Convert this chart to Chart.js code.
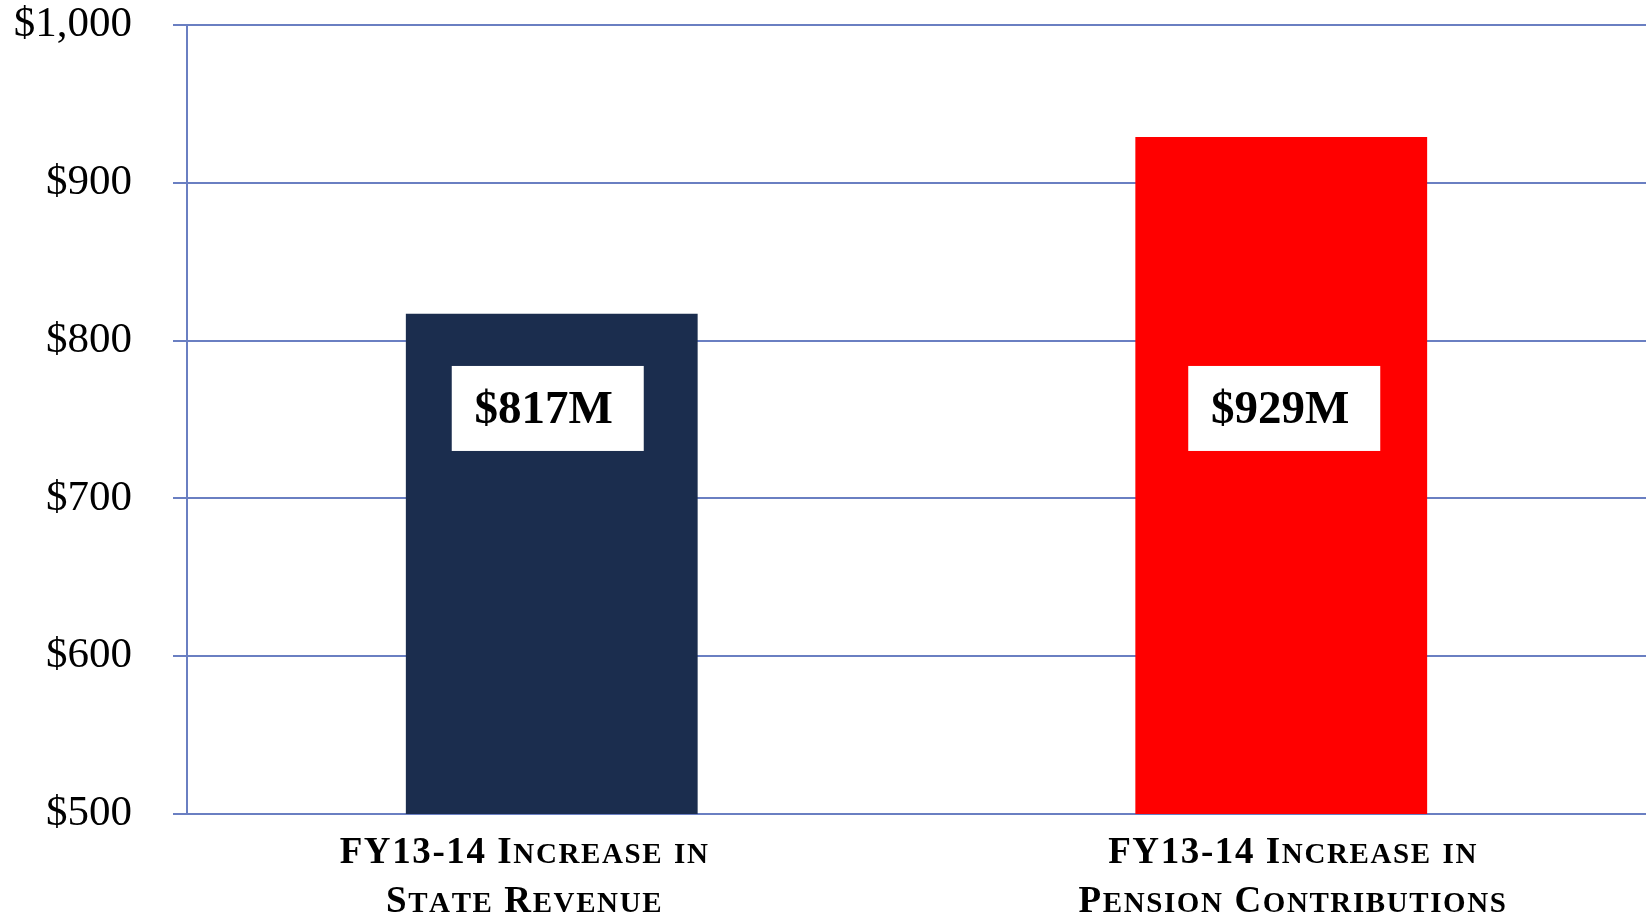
<!DOCTYPE html>
<html>
<head>
<meta charset="utf-8">
<script src="https://cdn.jsdelivr.net/npm/chart.js@4"></script>
<style>
html,body{margin:0;padding:0;background:#fff;}
#wrap{width:1652px;height:916px;position:relative;}
</style>
</head>
<body>
<div id="wrap"><canvas id="c" width="1652" height="916"></canvas></div>
<script>
const categories = [["FY13-14 Increase in", "State Revenue"], ["FY13-14 Increase in", "Pension Contributions"]];
const values = [817, 929];
const valueLabels = ["$817M", "$929M"];
const barColors = ["#1b2d4e", "#ff0000"];
const yTicks = [500, 600, 700, 800, 900, 1000];

const gridColor = "#6a7fc2";

// draw text in small caps: uppercase letters full size, lowercase as smaller capitals
function drawSmallCaps(ctx, text, cx, baseline, big, small, spacing) {
  const parts = [];
  for (const ch of text) {
    const isLower = ch !== ch.toUpperCase();
    parts.push({ t: ch.toUpperCase(), size: isLower ? small : big });
  }
  let total = 0;
  parts.forEach(p => {
    ctx.font = "bold " + p.size + "px 'Liberation Serif'";
    p.w = ctx.measureText(p.t).width;
    total += p.w + spacing;
  });
  total -= spacing;
  let x = cx - total / 2;
  ctx.textAlign = "left";
  ctx.textBaseline = "alphabetic";
  parts.forEach(p => {
    ctx.font = "bold " + p.size + "px 'Liberation Serif'";
    ctx.fillText(p.t, x, baseline);
    x += p.w + spacing;
  });
}

const categoryLabels = {
  id: "categoryLabels",
  afterDraw(chart, args, opts) {
    const ctx = chart.ctx;
    const xs = chart.scales.x;
    const bottom = chart.chartArea.bottom;
    ctx.save();
    ctx.fillStyle = "#000";
    categories.forEach((lines, i) => {
      const cx = xs.getPixelForTick(i) + opts.offsets[i];
      lines.forEach((line, j) => {
        drawSmallCaps(ctx, line, cx, bottom + 49 + j * 49, 37, 29, 1.6);
      });
    });
    ctx.restore();
  }
};

const boxLabels = {
  id: "boxLabels",
  afterDatasetsDraw(chart, args, opts) {
    const ctx = chart.ctx;
    const meta = chart.getDatasetMeta(0);
    const y = chart.scales.y.getPixelForValue(757);
    ctx.save();
    meta.data.forEach((bar, i) => {
      const w = 192, h = 85;
      const bx = bar.x + opts.offsets[i];
      ctx.fillStyle = "#ffffff";
      ctx.fillRect(bx - w / 2, y - h / 2, w, h);
      ctx.fillStyle = "#000000";
      ctx.font = "bold 47px 'Liberation Serif'";
      ctx.textAlign = "center";
      ctx.textBaseline = "middle";
      ctx.fillText(valueLabels[i], bx - 4, y + 2);
    });
    ctx.restore();
  }
};

new Chart(document.getElementById("c"), {
  type: "bar",
  data: {
    labels: categories,
    datasets: [{
      data: values,
      backgroundColor: barColors,
      borderWidth: 0,
      barPercentage: 0.8,
      categoryPercentage: 0.5
    }]
  },
  options: {
    responsive: false,
    animation: false,
    events: [],
    layout: { padding: { left: 0, top: 25, right: 6, bottom: 0 } },
    plugins: {
      legend: { display: false },
      tooltip: { enabled: false },
      categoryLabels: { offsets: [-28, 11] },
      boxLabels: { offsets: [-4, 3] }
    },
    scales: {
      x: {
        grid: { display: false },
        border: { display: false },
        ticks: { display: false },
        afterFit(scale) { scale.height = 102; scale.paddingLeft = 0; scale.paddingRight = 0; }
      },
      y: {
        min: 500,
        max: 1000,
        afterBuildTicks(scale) { scale.ticks = yTicks.map(v => ({ value: v })); },
        grid: { color: gridColor, lineWidth: 2, tickLength: 14, drawTicks: true },
        border: { color: gridColor, width: 2 },
        ticks: {
          color: "#000",
          padding: 41,
          font: { family: "'Liberation Serif'", size: 43 },
          callback: (v) => "$" + v.toLocaleString("en-US")
        },
        afterFit(scale) { scale.width = 187; scale.paddingTop = 0; scale.paddingBottom = 0; }
      }
    }
  },
  plugins: [boxLabels, categoryLabels]
});
</script>
</body>
</html>
